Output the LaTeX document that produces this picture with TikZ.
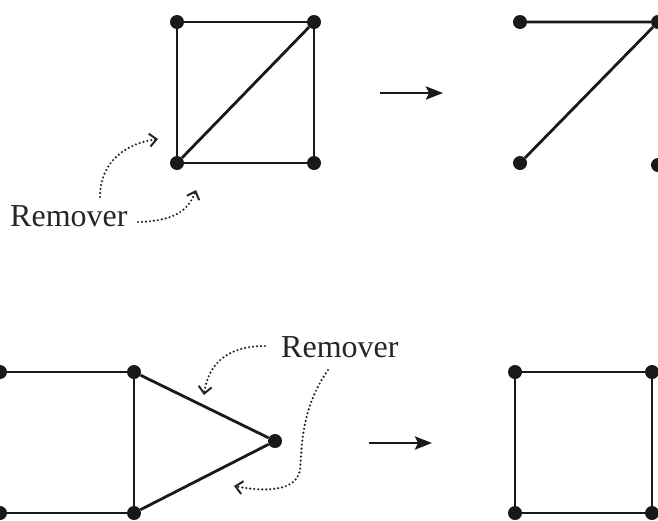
\documentclass[tikz,border=0pt]{standalone}
\usepackage{fontspec}
\setmainfont{Liberation Serif}
\usetikzlibrary{arrows.meta}
\begin{document}
\begin{tikzpicture}[x=1pt,y=-1pt,
  vtx/.style={circle,fill=black!90,inner sep=0pt,minimum size=14pt},
  edge/.style={line width=2.8pt,black!90},
  bigarrow/.style={line width=2.8pt,black!90,-{Stealth[length=17pt,width=13pt,inset=3pt]}},
  pointer/.style={line width=2.4pt,dash pattern=on 0pt off 4pt,line cap=round,black!85,-{Straight Barb[length=7pt,width=13pt,line width=2pt]}},
  lbl/.style={font=\fontsize{32}{34}\selectfont,inner sep=0pt,black!85}]
\useasboundingbox (0,0) rectangle (658,520);
% top left graph
\node[vtx] (a1) at (177,22) {};
\node[vtx] (a2) at (314,22) {};
\node[vtx] (a3) at (177,163) {};
\node[vtx] (a4) at (314,163) {};
\draw[edge] (a1) -- (a2) -- (a4) -- (a3) -- (a1);
\draw[edge] (a3) -- (a2);
% top arrow
\coordinate (t1) at (380,93);
\coordinate (t2) at (443,93);
\draw[bigarrow] (t1) -- (t2);
% top right graph
\node[vtx] (b1) at (520,22) {};
\node[vtx] (b2) at (658,22) {};
\node[vtx] (b3) at (520,163) {};
\node[vtx] (b4) at (658,165) {};
\draw[edge] (b1) -- (b2) -- (b3);
% top label
\node[lbl,anchor=base west] (r1) at (10,226) {Remover};
\coordinate (p1s) at (100,197);
\coordinate (p1e) at (158,139);
\draw[pointer] (p1s) .. controls (100,160) and (128,143) .. (p1e);
\coordinate (p2s) at (138,222);
\coordinate (p2e) at (196,190);
\draw[pointer] (p2s) .. controls (172,221) and (188,212) .. (p2e);
% bottom left graph
\node[vtx] (c1) at (0,372) {};
\node[vtx] (c2) at (134,372) {};
\node[vtx] (c3) at (0,513) {};
\node[vtx] (c4) at (134,513) {};
\node[vtx] (c5) at (275,441) {};
\draw[edge] (c1) -- (c2) -- (c4) -- (c3);
\draw[edge] (c2) -- (c5) -- (c4);
% bottom label
\node[lbl,anchor=base west] (r2) at (281,357) {Remover};
\coordinate (p3s) at (265,346);
\coordinate (p3e) at (204,395);
\draw[pointer] (p3s) .. controls (226,346) and (208,365) .. (p3e);
\coordinate (p4s) at (328,370);
\coordinate (p4e) at (234,486);
\draw[pointer] (p4s) .. controls (300,410) and (302,450) .. (300,470) .. controls (296,495) and (255,490) .. (p4e);
% bottom arrow
\coordinate (u1) at (369,443);
\coordinate (u2) at (432,443);
\draw[bigarrow] (u1) -- (u2);
% bottom right graph
\node[vtx] (d1) at (515,372) {};
\node[vtx] (d2) at (652,372) {};
\node[vtx] (d3) at (515,513) {};
\node[vtx] (d4) at (652,513) {};
\draw[edge] (d1) -- (d2) -- (d4) -- (d3) -- (d1);
\end{tikzpicture}
\end{document}
